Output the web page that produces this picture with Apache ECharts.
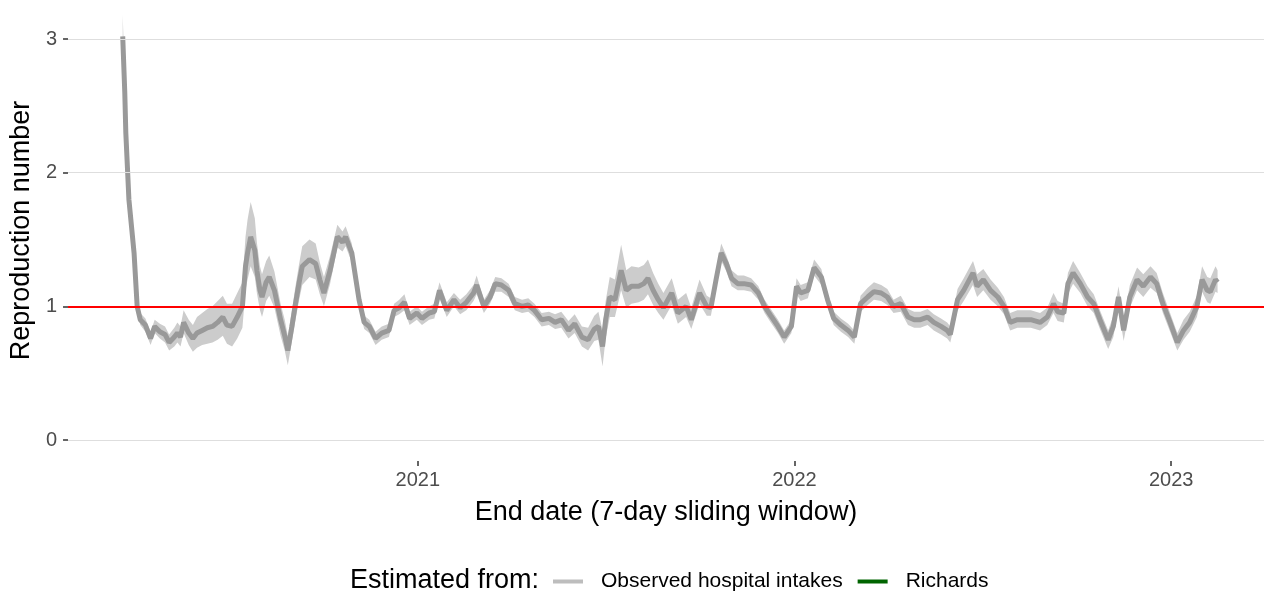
<!DOCTYPE html>
<html>
<head>
<meta charset="utf-8">
<script src="https://cdn.jsdelivr.net/npm/echarts@6/dist/echarts.min.js"></script>
<style>
html,body{margin:0;padding:0;background:#fff;}
#chart{width:1264px;height:592px;}
</style>
</head>
<body>
<div id="chart"></div>
<script>
// ---- data ----
const startDate = '2020-03-21';
const dayOffsets = [0,2,3,6,11,14,17,22,27,31,36,41,45,50,53,56,59,64,68,72,77,82,87,92,97,101,106,111,116,119,121,124,128,130,133,135,139,142,147,153,157,160,164,167,171,174,181,187,191,195,201,208,213,216,222,226,229,234,239,245,251,258,263,268,273,278,285,290,297,302,307,314,321,327,333,340,343,350,356,361,367,374,380,387,393,399,406,413,419,425,432,438,445,451,457,461,465,468,472,477,483,488,493,500,505,509,514,519,524,532,538,546,551,559,566,570,575,580,585,590,596,602,609,616,622,628,635,641,648,653,657,664,670,677,683,689,696,703,709,715,722,728,735,741,747,754,761,767,773,780,786,793,799,802,809,815,824,828,834,841,848,854,860,867,873,880,889,896,902,906,912,916,921,928,935,941,947,955,960,965,970,976,983,989,996,1002,1008,1015,1022,1028,1034,1041,1046,1051,1054,1059,1061];
const rMean = [3.02,2.60,2.30,1.80,1.40,1.00,0.90,0.86,0.76,0.85,0.81,0.79,0.73,0.77,0.80,0.77,0.88,0.80,0.76,0.80,0.82,0.84,0.85,0.88,0.92,0.86,0.85,0.92,1.00,1.30,1.40,1.52,1.42,1.27,1.12,1.07,1.18,1.22,1.12,0.90,0.78,0.67,0.85,1.00,1.18,1.30,1.35,1.32,1.20,1.10,1.27,1.52,1.48,1.52,1.40,1.20,1.05,0.88,0.85,0.76,0.80,0.82,0.97,0.99,1.03,0.91,0.95,0.91,0.95,0.96,1.12,0.97,1.05,0.99,1.03,1.10,1.16,1.00,1.07,1.17,1.16,1.12,1.02,1.00,1.01,0.97,0.90,0.91,0.88,0.90,0.82,0.87,0.77,0.75,0.83,0.85,0.70,0.90,1.07,1.05,1.27,1.12,1.15,1.15,1.17,1.21,1.12,1.05,0.99,1.10,0.95,1.00,0.90,1.10,1.00,0.99,1.20,1.40,1.32,1.21,1.17,1.17,1.16,1.10,1.00,0.93,0.85,0.77,0.85,1.15,1.10,1.12,1.29,1.22,1.05,0.91,0.86,0.82,0.77,1.02,1.07,1.11,1.10,1.07,1.00,1.02,0.92,0.90,0.90,0.92,0.88,0.85,0.82,0.79,1.05,1.12,1.25,1.15,1.20,1.12,1.07,1.00,0.88,0.90,0.90,0.90,0.88,0.92,1.02,0.96,0.95,1.17,1.25,1.17,1.07,1.02,0.90,0.75,0.85,1.07,0.82,1.07,1.20,1.15,1.22,1.17,1.02,0.88,0.73,0.82,0.88,1.00,1.20,1.12,1.11,1.20,1.18];
const rLower = [2.95,2.52,2.24,1.75,1.36,0.96,0.86,0.81,0.71,0.80,0.76,0.73,0.67,0.70,0.73,0.70,0.80,0.71,0.66,0.69,0.71,0.72,0.73,0.75,0.78,0.72,0.70,0.76,0.84,1.12,1.20,1.30,1.22,1.10,0.97,0.92,1.04,1.08,0.99,0.78,0.67,0.56,0.74,0.88,1.05,1.16,1.22,1.20,1.09,1.00,1.17,1.44,1.41,1.45,1.33,1.14,0.99,0.83,0.80,0.71,0.75,0.77,0.92,0.94,0.97,0.86,0.90,0.86,0.90,0.91,1.06,0.92,1.00,0.94,0.97,1.04,1.09,0.95,1.02,1.11,1.11,1.07,0.97,0.95,0.96,0.92,0.85,0.86,0.83,0.84,0.76,0.80,0.70,0.67,0.74,0.75,0.55,0.76,0.92,0.92,1.12,0.99,1.02,1.03,1.05,1.09,1.01,0.95,0.90,1.01,0.87,0.92,0.83,1.02,0.93,0.93,1.14,1.34,1.26,1.15,1.12,1.12,1.11,1.05,0.95,0.88,0.80,0.72,0.80,1.09,1.04,1.06,1.23,1.16,1.00,0.86,0.81,0.77,0.72,0.96,1.01,1.05,1.04,1.01,0.95,0.96,0.86,0.84,0.84,0.86,0.82,0.79,0.76,0.73,0.97,1.04,1.16,1.07,1.12,1.05,1.00,0.94,0.82,0.84,0.84,0.84,0.82,0.86,0.95,0.89,0.88,1.09,1.17,1.10,1.00,0.95,0.83,0.68,0.77,0.98,0.74,0.99,1.12,1.07,1.14,1.10,0.95,0.81,0.67,0.75,0.81,0.92,1.11,1.03,1.02,1.11,1.10];
const rUpper = [3.18,2.70,2.37,1.86,1.45,1.05,0.95,0.91,0.81,0.90,0.87,0.85,0.79,0.84,0.88,0.85,0.97,0.90,0.86,0.92,0.95,0.98,1.00,1.04,1.08,1.02,1.02,1.10,1.18,1.52,1.65,1.78,1.66,1.48,1.30,1.24,1.34,1.38,1.26,1.02,0.90,0.78,0.97,1.13,1.32,1.45,1.50,1.47,1.33,1.22,1.38,1.61,1.56,1.60,1.47,1.27,1.11,0.93,0.90,0.81,0.85,0.87,1.02,1.05,1.09,0.96,1.00,0.96,1.00,1.02,1.18,1.03,1.10,1.05,1.09,1.16,1.23,1.05,1.12,1.22,1.21,1.17,1.07,1.05,1.06,1.02,0.95,0.96,0.94,0.96,0.89,0.94,0.85,0.84,0.93,0.96,0.82,1.04,1.22,1.20,1.46,1.27,1.30,1.29,1.31,1.35,1.25,1.17,1.10,1.21,1.05,1.10,0.99,1.20,1.08,1.06,1.27,1.47,1.38,1.27,1.23,1.23,1.21,1.15,1.05,0.98,0.90,0.82,0.90,1.21,1.16,1.18,1.35,1.28,1.10,0.96,0.91,0.87,0.82,1.08,1.14,1.18,1.16,1.13,1.05,1.08,0.98,0.96,0.96,0.98,0.94,0.91,0.88,0.85,1.13,1.21,1.34,1.24,1.28,1.20,1.14,1.07,0.95,0.97,0.97,0.97,0.95,0.99,1.10,1.04,1.02,1.25,1.34,1.25,1.15,1.09,0.97,0.82,0.93,1.15,0.90,1.16,1.29,1.24,1.30,1.25,1.10,0.95,0.80,0.90,0.96,1.08,1.30,1.22,1.21,1.30,1.27];
const referenceLevel = 1;
const yTicks = [0, 1, 2, 3];
const xTickYears = ['2021', '2022', '2023'];
const xAxisStart = '2020-01-28';
const xAxisEnd = '2023-04-01';
const legendTitle = 'Estimated from:';
const seriesNames = ['Observed hospital intakes', 'Richards'];

// ---- build ----
const s = startDate.split('-').map(Number);
function dayToTime(off) { return new Date(s[0], s[1] - 1, s[2] + off).getTime(); }
function parseDate(str) { const p = str.split('-').map(Number); return new Date(p[0], p[1] - 1, p[2]).getTime(); }
const times = dayOffsets.map(dayToTime);
const meanData = times.map((t, i) => [t, rMean[i]]);
const bandData = times.map((t, i) => [t, rLower[i], rUpper[i]]);
const xTickValues = xTickYears.map(y => new Date(+y, 0, 1).getTime());

const FONT = "'Liberation Sans', Arial, sans-serif";
const chart = echarts.init(document.getElementById('chart'), null, { renderer: 'canvas' });
chart.setOption({
  animation: false,
  backgroundColor: '#ffffff',
  textStyle: { fontFamily: FONT },
  title: {
    text: legendTitle, left: 350, top: 567, padding: 0,
    textStyle: { fontSize: 27, fontWeight: 'normal', color: '#000', fontFamily: FONT }
  },
  legend: {
    left: 553, top: 571, padding: 0, itemGap: 15,
    itemWidth: 30, itemHeight: 4, icon: 'rect',
    textStyle: { fontSize: 21, color: '#000', fontFamily: FONT, padding: [0, 0, 0, 13] },
    data: [
      { name: seriesNames[0], itemStyle: { color: '#bdbdbd' } },
      { name: seriesNames[1], itemStyle: { color: '#006400' } }
    ]
  },
  grid: { left: 65, right: 0, top: 0, bottom: 131 },
  xAxis: {
    type: 'value', min: parseDate(xAxisStart), max: parseDate(xAxisEnd),
    name: 'End date (7-day sliding window)', nameLocation: 'middle', nameGap: 38,
    nameTextStyle: { fontSize: 27, color: '#000', fontFamily: FONT },
    axisLine: { show: false, onZero: false },
    axisTick: { show: true, length: 5, lineStyle: { color: '#333', width: 1.5 }, customValues: xTickValues },
    axisLabel: {
      customValues: xTickValues, fontSize: 20, color: '#4d4d4d', margin: 9, fontFamily: FONT,
      formatter: v => String(new Date(v).getFullYear())
    },
    splitLine: { show: false }
  },
  yAxis: {
    type: 'value', min: -0.157, max: 3.292,
    name: 'Reproduction number', nameLocation: 'middle', nameGap: 20,
    nameTextStyle: { fontSize: 27, color: '#000', fontFamily: FONT },
    axisLine: { show: false, onZero: false },
    axisTick: { show: true, length: 5, lineStyle: { color: '#333', width: 1.5 }, customValues: yTicks },
    axisLabel: { customValues: yTicks, fontSize: 20, color: '#4d4d4d', margin: 11, fontFamily: FONT },
    splitLine: { show: false }
  },
  series: [
    {
      name: 'grid', type: 'line', data: [], z: 0, silent: true,
      markLine: {
        silent: true, symbol: 'none', label: { show: false },
        lineStyle: { color: '#dedede', width: 1, type: 'solid' },
        data: yTicks.map(v => ({ yAxis: v }))
      }
    },
    {
      name: 'ci-band', type: 'custom', data: bandData, silent: true, z: 1,
      encode: { x: 0, y: [1, 2] },
      renderItem: function (params, api) {
        if (params.dataIndex !== 0) return null;
        const pts = [];
        for (let i = 0; i < bandData.length; i++) pts.push(api.coord([bandData[i][0], bandData[i][2]]));
        for (let i = bandData.length - 1; i >= 0; i--) pts.push(api.coord([bandData[i][0], bandData[i][1]]));
        return { type: 'polygon', shape: { points: pts }, style: { fill: '#cccccc', stroke: null } };
      }
    },
    {
      name: seriesNames[0], type: 'line', data: meanData, showSymbol: false,
      lineStyle: { color: '#999999', width: 5 }, itemStyle: { color: '#bdbdbd' }, z: 2
    },
    {
      name: seriesNames[1], type: 'line', data: [], showSymbol: false,
      lineStyle: { color: '#006400', width: 4 }, itemStyle: { color: '#006400' }, z: 2
    },
    {
      name: 'reference', type: 'line', data: [], z: 5, silent: true,
      markLine: {
        silent: true, symbol: 'none', label: { show: false }, z: 5,
        lineStyle: { color: '#ff0000', width: 2, type: 'solid' },
        data: [{ yAxis: referenceLevel }]
      }
    }
  ]
});
</script>
</body>
</html>
